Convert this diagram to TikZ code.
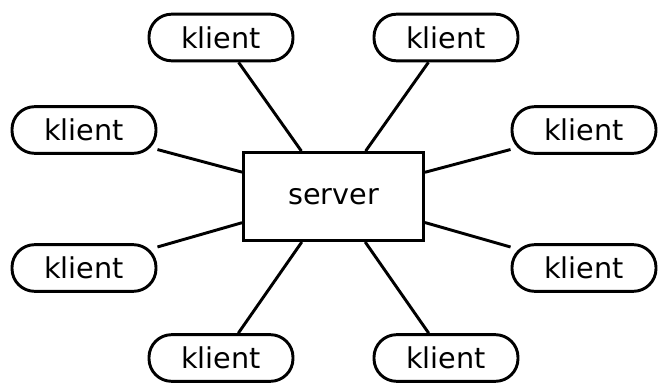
\documentclass[tikz,border=0pt]{standalone}
\usepackage{fontspec}
\setmainfont{DejaVu Sans}
\begin{document}
\begin{tikzpicture}[x=0.75pt,y=-0.75pt,
  klientbox/.style={draw,line width=2.2pt,rounded corners=17pt,minimum width=108pt,minimum height=35pt,inner sep=0pt,font=\fontsize{21.5}{26}\selectfont},
  serverbox/.style={draw,line width=2.2pt,minimum width=135pt,minimum height=66pt,inner sep=0pt,font=\fontsize{21.5}{26}\selectfont},
  link/.style={line width=2.2pt}]
\useasboundingbox (0,0) rectangle (667,385);
\node[serverbox] (s) at (333.5,196.5) {server};
\node[klientbox] (k1) at (221,37.5) {klient};
\node[klientbox] (k2) at (446,37.5) {klient};
\node[klientbox] (k3) at (84,130) {klient};
\node[klientbox] (k4) at (584,130) {klient};
\node[klientbox] (k5) at (84,268) {klient};
\node[klientbox] (k6) at (584,268) {klient};
\node[klientbox] (k7) at (221,358) {klient};
\node[klientbox] (k8) at (446,358) {klient};
\foreach \k in {k1,k2,k3,k4,k5,k6,k7,k8} \draw[link] (\k) -- (s);
\end{tikzpicture}
\end{document}
